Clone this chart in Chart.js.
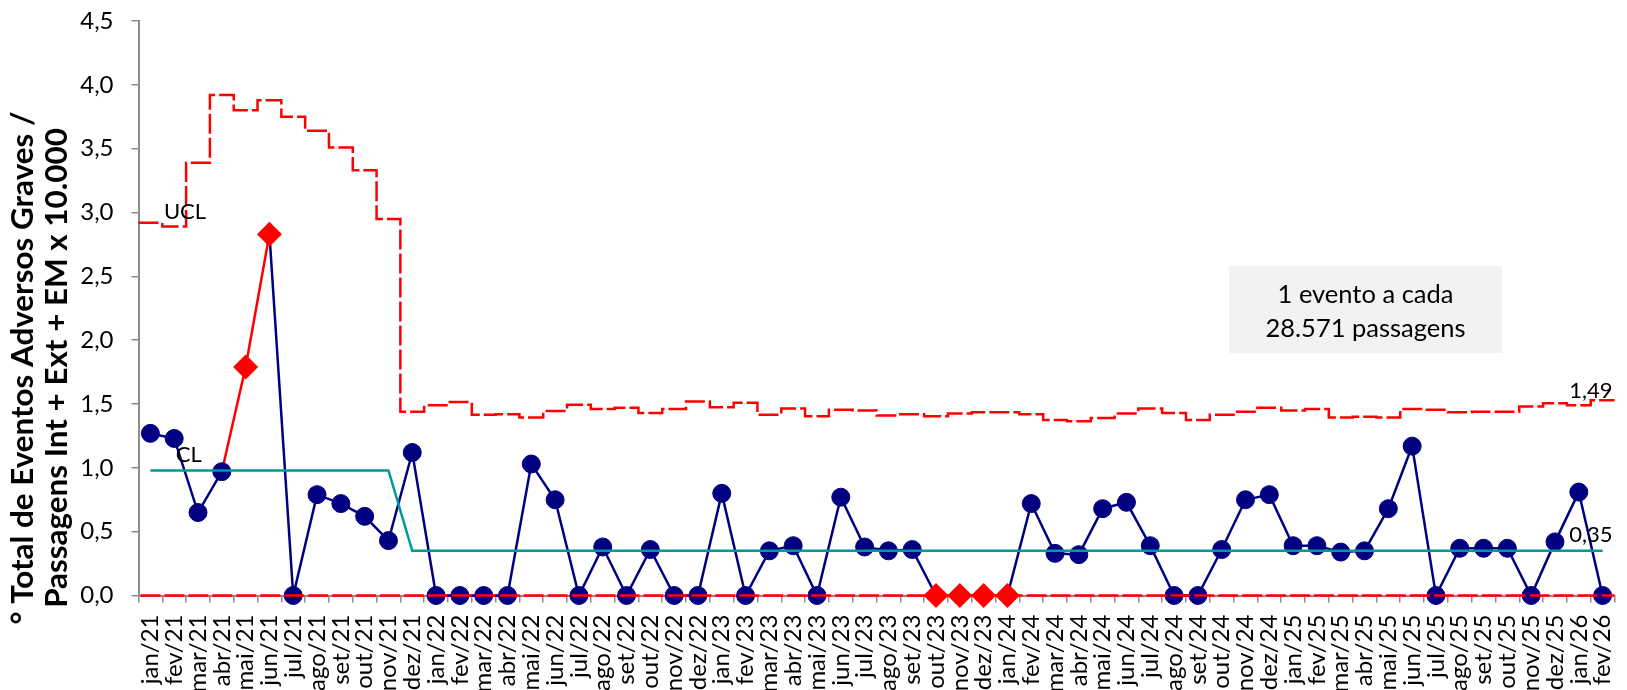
<!DOCTYPE html>
<html>
<head>
<meta charset="utf-8">
<script src="https://cdn.jsdelivr.net/npm/chart.js@4.4.1/dist/chart.umd.min.js"></script>
<style>
  html, body { margin: 0; padding: 0; background: #ffffff; }
  #wrap { width: 1627px; height: 690px; position: relative; }
</style>
</head>
<body>
<div id="wrap"><canvas id="grafico"></canvas></div>
<script>
// Meses do período
const meses = [
  'jan/21','fev/21','mar/21','abr/21','mai/21','jun/21','jul/21','ago/21','set/21','out/21','nov/21','dez/21',
  'jan/22','fev/22','mar/22','abr/22','mai/22','jun/22','jul/22','ago/22','set/22','out/22','nov/22','dez/22',
  'jan/23','fev/23','mar/23','abr/23','mai/23','jun/23','jul/23','ago/23','set/23','out/23','nov/23','dez/23',
  'jan/24','fev/24','mar/24','abr/24','mai/24','jun/24','jul/24','ago/24','set/24','out/24','nov/24','dez/24',
  'jan/25','fev/25','mar/25','abr/25','mai/25','jun/25','jul/25','ago/25','set/25','out/25','nov/25','dez/25',
  'jan/26','fev/26'
];

// Eventos adversos graves por 10.000 passagens
const taxa = [
  1.27, 1.23, 0.65, 0.97, 1.79, 2.83, 0, 0.79, 0.72, 0.62, 0.43, 1.12,
  0, 0, 0, 0, 1.03, 0.75, 0, 0.38, 0, 0.36, 0, 0,
  0.80, 0, 0.35, 0.39, 0, 0.77, 0.38, 0.35, 0.36, 0, 0, 0,
  0, 0.72, 0.33, 0.32, 0.68, 0.73, 0.39, 0, 0, 0.36, 0.75, 0.79,
  0.39, 0.39, 0.34, 0.35, 0.68, 1.17, 0, 0.37, 0.37, 0.37, 0, 0.42,
  0.81, 0
];

// Limite superior de controle (UCL)
const ucl = [
  2.92, 2.89, 3.39, 3.92, 3.80, 3.88, 3.75, 3.64, 3.51, 3.33, 2.95, 1.44,
  1.49, 1.515, 1.415, 1.42, 1.395, 1.445, 1.495, 1.46, 1.47, 1.43, 1.46, 1.52,
  1.475, 1.51, 1.415, 1.465, 1.405, 1.455, 1.45, 1.41, 1.42, 1.405, 1.425, 1.435,
  1.435, 1.42, 1.375, 1.365, 1.39, 1.425, 1.465, 1.43, 1.375, 1.415, 1.44, 1.47,
  1.45, 1.46, 1.395, 1.40, 1.395, 1.46, 1.455, 1.435, 1.44, 1.44, 1.48, 1.505,
  1.49, 1.53
];

// Linha central (CL)
const cl = [
  0.98, 0.98, 0.98, 0.98, 0.98, 0.98, 0.98, 0.98, 0.98, 0.98, 0.98, 0.35,
  0.35, 0.35, 0.35, 0.35, 0.35, 0.35, 0.35, 0.35, 0.35, 0.35, 0.35, 0.35,
  0.35, 0.35, 0.35, 0.35, 0.35, 0.35, 0.35, 0.35, 0.35, 0.35, 0.35, 0.35,
  0.35, 0.35, 0.35, 0.35, 0.35, 0.35, 0.35, 0.35, 0.35, 0.35, 0.35, 0.35,
  0.35, 0.35, 0.35, 0.35, 0.35, 0.35, 0.35, 0.35, 0.35, 0.35, 0.35, 0.35,
  0.35, 0.35
];

// Limite inferior de controle (LCL)
const lcl = [
  0, 0, 0, 0, 0, 0, 0, 0, 0, 0, 0, 0,
  0, 0, 0, 0, 0, 0, 0, 0, 0, 0, 0, 0,
  0, 0, 0, 0, 0, 0, 0, 0, 0, 0, 0, 0,
  0, 0, 0, 0, 0, 0, 0, 0, 0, 0, 0, 0,
  0, 0, 0, 0, 0, 0, 0, 0, 0, 0, 0, 0,
  0, 0
];

// Pontos sinalizados: tendência e sequência
const tendencia = ['mai/21', 'jun/21'];
const sequencia = ['out/23', 'nov/23', 'dez/23', 'jan/24'];

const tituloEixoY = ['° Total de Eventos Adversos Graves /', 'Passagens Int + Ext + EM x 10.000'];
const textoCaixa = ['1 evento a cada', '28.571 passagens'];

const AZUL = '#000080';
const VERMELHO = '#ff0000';
const VERDE = '#009999';
const CINZA = '#8c8c8c';
const FONTE = 'Lato, "Open Sans", sans-serif';

const virgula = v => v.toFixed(2).replace(/0$/, '').replace('.', ',');

function montar() {
  const idxTend = new Set(tendencia.map(m => meses.indexOf(m)));
  const idxSeq = new Set(sequencia.map(m => meses.indexOf(m)));
  const sinalizado = i => idxTend.has(i) || idxSeq.has(i);

  // degraus do UCL ocupando toda a largura de cada mês
  const degraus = ucl.map((v, i) => ({ x: i - 0.5, y: v }));
  degraus.push({ x: ucl.length - 0.5, y: ucl[ucl.length - 1] });
  const baseLcl = lcl.map((v, i) => ({ x: i - 0.5, y: v }));
  baseLcl.push({ x: lcl.length - 0.5, y: lcl[lcl.length - 1] });

  const diamantes = taxa.map((v, i) => sinalizado(i) ? v : null);

  // tamanho da fonte do título do eixo Y
  const medidor = document.createElement('canvas').getContext('2d');
  medidor.font = 'bold 30px ' + FONTE;
  const tamTitulo = 30 * 480 / medidor.measureText(tituloEixoY[1]).width;

  const rotulos = {
    id: 'rotulos',
    afterDatasetsDraw(chart) {
      const { ctx } = chart;
      const x = chart.scales.x, y = chart.scales.y;
      ctx.save();
      ctx.fillStyle = '#000';

      // título do eixo Y
      ctx.font = 'bold ' + tamTitulo.toFixed(1) + 'px ' + FONTE;
      ctx.textAlign = 'center';
      ctx.textBaseline = 'middle';
      [23, 57].forEach((px, k) => {
        ctx.save();
        ctx.translate(px, 368);
        ctx.rotate(-Math.PI / 2);
        ctx.fillText(tituloEixoY[k], 0, 0);
        ctx.restore();
      });

      // rótulos das linhas de controle
      ctx.font = '22px ' + FONTE;
      ctx.textAlign = 'left';
      ctx.fillText('UCL', x.getPixelForValue(0) + 13.5, y.getPixelForValue(ucl[0]) - 11);
      ctx.fillText('CL', x.getPixelForValue(1) + 1.5, y.getPixelForValue(cl[0]) - 15);
      ctx.textAlign = 'right';
      const n = meses.length;
      ctx.fillText(virgula(ucl[n - 2]), x.right - 2, y.getPixelForValue(ucl[n - 2]) - 14);
      ctx.fillText(virgula(cl[n - 1]), x.right - 2, y.getPixelForValue(cl[n - 1]) - 16);

      // caixa de destaque
      ctx.fillStyle = '#f2f2f2';
      ctx.fillRect(1229, 266, 273, 87);
      ctx.fillStyle = '#000';
      ctx.font = '25.5px ' + FONTE;
      ctx.textAlign = 'center';
      ctx.fillText(textoCaixa[0], 1365.5, 295);
      ctx.fillText(textoCaixa[1], 1365.5, 329);
      ctx.restore();
    }
  };

  new Chart(document.getElementById('grafico'), {
    type: 'line',
    data: {
      labels: meses,
      datasets: [
        {
          label: 'Sinalizados',
          data: diamantes,
          showLine: false,
          pointStyle: 'rectRot',
          pointRadius: 12.5,
          pointBackgroundColor: VERMELHO,
          pointBorderColor: VERMELHO,
          pointBorderWidth: 0,
          clip: false,
          order: 0
        },
        {
          label: 'UCL',
          xAxisID: 'xs',
          data: degraus,
          stepped: true,
          borderColor: VERMELHO,
          borderWidth: 2.5,
          borderDash: [20, 4],
          pointRadius: 0,
          fill: false,
          clip: false,
          order: 1
        },
        {
          label: 'LCL',
          xAxisID: 'xs',
          data: baseLcl,
          borderColor: VERMELHO,
          borderWidth: 2.5,
          borderDash: [20, 3.95],
          borderDashOffset: 21.95,
          pointRadius: 0,
          fill: false,
          clip: false,
          order: 2
        },
        {
          label: 'CL',
          data: cl,
          borderColor: VERDE,
          borderWidth: 2.5,
          pointRadius: 0,
          tension: 0,
          fill: false,
          clip: false,
          order: 3
        },
        {
          label: 'Taxa',
          data: taxa,
          borderColor: AZUL,
          borderWidth: 2.5,
          tension: 0,
          pointRadius: c => sinalizado(c.dataIndex) ? 0 : 9,
          pointBackgroundColor: AZUL,
          pointBorderColor: AZUL,
          pointBorderWidth: 1,
          segment: {
            borderColor: c => (idxTend.has(c.p1DataIndex) ||
              (sinalizado(c.p0DataIndex) && sinalizado(c.p1DataIndex))) ? VERMELHO : AZUL
          },
          fill: false,
          clip: false,
          order: 4
        }
      ]
    },
    options: {
      responsive: true,
      maintainAspectRatio: false,
      animation: false,
      events: [],
      layout: { padding: { top: 21, right: 3.6, left: 0, bottom: 0 } },
      plugins: { legend: { display: false }, tooltip: { enabled: false }, title: { display: false } },
      scales: {
        x: {
          type: 'category',
          offset: true,
          grid: { display: true, drawOnChartArea: false, drawTicks: true, tickLength: 7, offset: true, color: CINZA, lineWidth: 1.5 },
          border: { display: true, color: CINZA, width: 2 },
          ticks: { autoSkip: false, maxRotation: 90, minRotation: 90, padding: 12, color: '#000', font: { family: FONTE, size: 24 } },
          afterFit: s => { s.height = 94.5; s.paddingLeft = 0; s.paddingRight = 0; }
        },
        xs: { type: 'linear', min: -0.5, max: meses.length - 0.5, display: false },
        y: {
          min: 0,
          max: 4.5,
          ticks: {
            stepSize: 0.5, padding: 18, color: '#000', font: { family: FONTE, size: 24 },
            callback: v => Number(v).toFixed(1).replace('.', ',')
          },
          grid: { display: true, drawOnChartArea: false, drawTicks: true, tickLength: 7, color: CINZA, lineWidth: 1.5 },
          border: { display: true, color: CINZA, width: 2 },
          afterFit: s => { s.width = 138.5; s.paddingTop = 0; s.paddingBottom = 0; }
        }
      }
    },
    plugins: [rotulos]
  });
}

Promise.all([
  document.fonts.load('20px Lato'),
  document.fonts.load('bold 30px Lato')
]).catch(() => {}).then(montar);
</script>
</body>
</html>
